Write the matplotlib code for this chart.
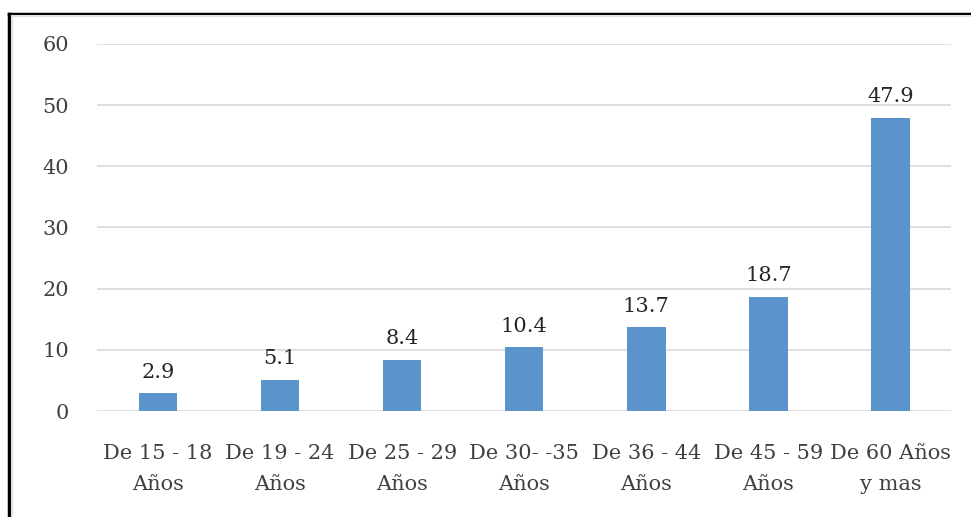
import matplotlib
matplotlib.use("Agg")
import matplotlib.pyplot as plt
from matplotlib.lines import Line2D

categories = ["De 15 - 18\nAños", "De 19 - 24\nAños", "De 25 - 29\nAños",
              "De 30- -35\nAños", "De 36 - 44\nAños", "De 45 - 59\nAños",
              "De 60 Años\ny mas"]
values = [2.9, 5.1, 8.4, 10.4, 13.7, 18.7, 47.9]
yticks = [0, 10, 20, 30, 40, 50, 60]

plt.rcParams['font.family'] = ['DejaVu Serif']
text_color = '#404040'

fig = plt.figure(figsize=(9.71, 5.17), dpi=100)
ax = fig.add_axes([0.0999, 0.205, 0.880, 0.710])

x = list(range(len(categories)))
ax.bar(x, values, width=0.315, color='#5B94CA', zorder=3)
for xi, v in zip(x, values):
    ax.text(xi, v + 1.9, f"{v:.1f}", ha='center', va='bottom',
            fontsize=15, color='#262626')

ax.set_xlim(-0.5, len(categories) - 0.5)
ax.set_ylim(0, 60)
ax.set_yticks(yticks)
ax.set_yticklabels([str(t) for t in yticks], fontsize=15, color=text_color)
ax.set_xticks(x)
ax.set_xticklabels(categories, fontsize=15, color=text_color, linespacing=1.82)
ax.tick_params(axis='both', length=0)
ax.tick_params(axis='y', pad=20)
ax.tick_params(axis='x', pad=23.5)
ax.grid(axis='y', color='#D9D9D9', linewidth=1.2, zorder=0)
for s in ax.spines.values():
    s.set_visible(False)

# outer frame (black with light inner shadow)
fig.add_artist(Line2D([0.0093, 0.0093], [0, 1 - 13.5 / 517], transform=fig.transFigure,
                      color='black', linewidth=2.5))
fig.add_artist(Line2D([0.0093, 1], [1 - 13.5 / 517, 1 - 13.5 / 517], transform=fig.transFigure,
                      color='black', linewidth=2.5))
fig.add_artist(Line2D([0.0125, 0.0125], [0, 1 - 16 / 517], transform=fig.transFigure,
                      color='#E0E0E0', linewidth=1.5))
fig.add_artist(Line2D([0.0125, 1], [1 - 16 / 517, 1 - 16 / 517], transform=fig.transFigure,
                      color='#E0E0E0', linewidth=1.5))

fig.savefig("out.png", dpi=100)
